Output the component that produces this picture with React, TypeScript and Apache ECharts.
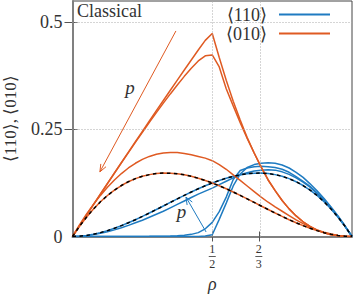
import React, { useEffect, useRef } from "react";
import * as echarts from "echarts";

// density grid
const rho = [0, 0.025, 0.05, 0.075, 0.1, 0.125, 0.15, 0.175, 0.2, 0.225, 0.25, 0.275, 0.3, 0.325, 0.35, 0.375, 0.4, 0.425, 0.45, 0.475, 0.5, 0.525, 0.55, 0.575, 0.6, 0.625, 0.65, 0.675, 0.7, 0.725, 0.75, 0.775, 0.8, 0.825, 0.85, 0.875, 0.9, 0.925, 0.95, 0.975, 1];

// <010> curves (orange)
const o010A = [0, 0.0238, 0.0451, 0.0642, 0.081, 0.0957, 0.1084, 0.1191, 0.128, 0.1351, 0.1406, 0.1445, 0.147, 0.1481, 0.1479, 0.1465, 0.144, 0.1405, 0.1361, 0.1309, 0.125, 0.1185, 0.1114, 0.1039, 0.096, 0.0879, 0.0796, 0.0713, 0.063, 0.0548, 0.0469, 0.0392, 0.032, 0.0253, 0.0191, 0.0137, 0.009, 0.0052, 0.0024, 0.0006, 0];
const o010B = [0, 0.027, 0.052, 0.075, 0.096, 0.115, 0.132, 0.147, 0.16, 0.171, 0.18, 0.187, 0.192, 0.195, 0.196, 0.196, 0.194, 0.191, 0.187, 0.183, 0.177, 0.168, 0.157, 0.144, 0.131, 0.118, 0.105, 0.092, 0.08, 0.069, 0.059, 0.049, 0.039, 0.03, 0.022, 0.0155, 0.0102, 0.0058, 0.0026, 0.0007, 0];
const o010C = [0, 0.025, 0.0498, 0.0744, 0.099, 0.1234, 0.1478, 0.1719, 0.196, 0.2197, 0.2432, 0.2664, 0.2892, 0.3115, 0.333, 0.354, 0.374, 0.393, 0.41, 0.422, 0.424, 0.396, 0.345, 0.305, 0.266, 0.229, 0.195, 0.162, 0.132, 0.107, 0.084, 0.0645, 0.048, 0.0344, 0.0234, 0.0148, 0.0085, 0.0041, 0.0015, 0.0003, 0];
const o010D = [0, 0.025, 0.0498, 0.0745, 0.0992, 0.1238, 0.1484, 0.1728, 0.1972, 0.2215, 0.2457, 0.2698, 0.2938, 0.3177, 0.3415, 0.3652, 0.3888, 0.4122, 0.4355, 0.458, 0.474, 0.418, 0.365, 0.316, 0.272, 0.231, 0.195, 0.162, 0.132, 0.107, 0.084, 0.0645, 0.048, 0.0344, 0.0234, 0.0148, 0.0085, 0.0041, 0.0015, 0.0003, 0];

// <110> curves (blue)
const b110A = [0, 0.0006, 0.0024, 0.0052, 0.009, 0.0137, 0.0191, 0.0253, 0.032, 0.0392, 0.0469, 0.0548, 0.063, 0.0713, 0.0796, 0.0879, 0.096, 0.1039, 0.1114, 0.1185, 0.125, 0.1309, 0.1361, 0.1405, 0.144, 0.1465, 0.1479, 0.1481, 0.147, 0.1445, 0.1406, 0.1351, 0.128, 0.1191, 0.1084, 0.0957, 0.081, 0.0642, 0.0451, 0.0238, 0];
const b110B = [0, 0.0005, 0.002, 0.0045, 0.0075, 0.011, 0.0155, 0.0205, 0.026, 0.032, 0.038, 0.045, 0.052, 0.059, 0.067, 0.075, 0.083, 0.091, 0.099, 0.106, 0.113, 0.121, 0.129, 0.137, 0.144, 0.149, 0.153, 0.155, 0.156, 0.155, 0.151, 0.145, 0.137, 0.127, 0.115, 0.1, 0.084, 0.066, 0.046, 0.024, 0];
const b110C = [0, 0, 0, 0, 0, 0, 0, 0, 0, 0.0001, 0.0002, 0.0003, 0.0005, 0.0008, 0.0012, 0.0018, 0.003, 0.005, 0.009, 0.018, 0.033, 0.058, 0.092, 0.133, 0.154, 0.16, 0.163, 0.164, 0.163, 0.161, 0.157, 0.15, 0.14, 0.129, 0.117, 0.102, 0.086, 0.067, 0.047, 0.024, 0];
const b110D = [0, 0, 0, 0, 0, 0, 0, 0, 0, 0, 0, 0, 0, 0, 0, 0, 0, 0, 0, 0.001, 0.004, 0.04, 0.078, 0.118, 0.146, 0.161, 0.168, 0.171, 0.172, 0.171, 0.167, 0.16, 0.15, 0.138, 0.123, 0.107, 0.089, 0.069, 0.048, 0.025, 0];

// axes
const yTickValues = [0, 0.25, 0.5];
const xTickValues = [0.5, 2 / 3];
const xTickFractions = [["1", "2"], ["2", "3"]];
const xAxisTitle = "\u03C1";
const legendLabels = ["\u27E8110\u27E9", "\u27E8010\u27E9"];

// p arrows (data coordinates): [from, to]
const orangeArrow = [[0.37, 0.48], [0.098, 0.151]];
const blueArrow = [[0.478, 0.0105], [0.406, 0.092]];
const orangeP = [0.2057, 0.347];
const blueP = [0.39, 0.058];

const ORANGE = "#df5a22";
const BLUE = "#1f7bc1";
const TEXT = "#333";
const SERIF = "Liberation Serif";

export default function App() {
  const ref = useRef<HTMLDivElement>(null);
  useEffect(() => {
    document.body.style.margin = "0";
    const chart = echarts.init(ref.current!, null, { renderer: "svg" });
    const pts = (ys: number[]) => rho.map((r, i) => [r, ys[i]]);
    const curve = (ys: number[], color: string, z = 2) => ({
      type: "line",
      data: pts(ys),
      showSymbol: false,
      symbol: "none",
      lineStyle: { color, width: 1.5 },
      z,
      silent: true,
    });
    const dashed = (ys: number[]) => ({
      type: "line",
      data: pts(ys),
      showSymbol: false,
      symbol: "none",
      lineStyle: { color: "#000", width: 1.5, type: [3.5, 3.5] },
      z: 5,
      silent: true,
    });
    chart.setOption({
      animation: false,
      textStyle: { fontFamily: SERIF },
      grid: { left: 72.5, right: 1, top: 1, bottom: 57.5, containLabel: false, outerBoundsMode: "none", show: true, borderColor: "#444", borderWidth: 1, backgroundColor: "transparent" },
      xAxis: [
        {
          type: "value", min: 0, max: 1,
          axisLine: { show: true, lineStyle: { color: "#808080", width: 2 } },
          axisTick: { show: true, inside: true, length: 5, customValues: xTickValues, lineStyle: { color: "#555" } },
          axisLabel: { show: false },
          splitLine: { show: false },
        },
        {
          type: "value", min: 0, max: 1, position: "top",
          axisLine: { show: false },
          axisTick: { show: true, inside: true, length: 5, customValues: xTickValues, lineStyle: { color: "#555" } },
          axisLabel: { show: false },
          splitLine: { show: false },
        },
      ],
      yAxis: [
        {
          type: "value", min: 0, max: 0.55,
          axisLine: { show: true, lineStyle: { color: "#808080", width: 2 } },
          axisTick: { show: true, inside: true, length: 5, customValues: [0.25, 0.5], lineStyle: { color: "#555" } },
          axisLabel: { show: true, customValues: yTickValues, margin: 10, fontFamily: SERIF, fontSize: 18, color: TEXT },
          splitLine: { show: false },
          name: "\u27E8110\u27E9, \u27E8010\u27E9", nameLocation: "middle", nameGap: 54, nameRotate: 90,
          nameTextStyle: { fontFamily: SERIF, fontSize: 17, color: TEXT },
        },
        {
          type: "value", min: 0, max: 0.55, position: "right",
          axisLine: { show: false },
          axisTick: { show: true, inside: true, length: 8, customValues: [0.25, 0.5], lineStyle: { color: "#555" } },
          axisLabel: { show: false },
          splitLine: { show: false },
        },
      ],
      series: [
        {
          type: "line", data: [], silent: true, z: 1,
          markLine: {
            silent: true, symbol: "none", label: { show: false },
            lineStyle: { color: "#aaa", width: 1, type: [1, 2] },
            data: [{ xAxis: xTickValues[0] }, { xAxis: xTickValues[1] }, { yAxis: yTickValues[1] }, { yAxis: yTickValues[2] }],
          },
        },
        curve(b110A, BLUE), curve(b110B, BLUE), curve(b110C, BLUE), curve(b110D, BLUE),
        curve(o010A, ORANGE, 3), curve(o010B, ORANGE, 3), curve(o010C, ORANGE, 3), curve(o010D, ORANGE, 3),
        dashed(o010A), dashed(b110A),
      ],
    });

    const P = (p: number[]) => chart.convertToPixel({ gridIndex: 0 }, p) as number[];
    const arrow = (a: number[][], color: string) => {
      const s = P(a[0]);
      const e = P(a[1]);
      const ang = Math.atan2(e[1] - s[1], e[0] - s[0]);
      const L = 8, w = 0.38;
      const h1 = [e[0] - L * Math.cos(ang - w), e[1] - L * Math.sin(ang - w)];
      const h2 = [e[0] - L * Math.cos(ang + w), e[1] - L * Math.sin(ang + w)];
      return [
        { type: "line", shape: { x1: s[0], y1: s[1], x2: e[0], y2: e[1] }, style: { stroke: color, lineWidth: 1 }, z: 10 },
        { type: "polyline", shape: { points: [h1, e, h2] }, style: { stroke: color, lineWidth: 1, fill: null }, z: 10 },
      ];
    };
    const zero = P([0, 0]);
    const mid = P([0.5, 0]);
    const txt = (x: number, y: number, text: string, size: number, align: string, italic = false) => ({
      type: "text", x, y, z: 10,
      style: { text, fontFamily: SERIF, fontSize: size, fontStyle: italic ? "italic" : "normal", fill: TEXT, align, verticalAlign: "middle" },
    });
    const gfx: any[] = [
      txt(77, 11, "Classical", 18, "left"),
      txt(267, 14.5, legendLabels[0], 18, "right"),
      { type: "line", shape: { x1: 279, y1: 14.5, x2: 330, y2: 14.5 }, style: { stroke: BLUE, lineWidth: 2 }, z: 10 },
      txt(267, 33.5, legendLabels[1], 18, "right"),
      { type: "line", shape: { x1: 279, y1: 33.5, x2: 330, y2: 33.5 }, style: { stroke: ORANGE, lineWidth: 2 }, z: 10 },
      ...arrow(orangeArrow, ORANGE),
      ...arrow(blueArrow, BLUE),
      txt(mid[0], zero[1] + 47, xAxisTitle, 18, "center", true),
    ];
    const op = P(orangeP);
    const bp = P(blueP);
    gfx.push(txt(op[0], op[1], "p", 19, "center", true));
    gfx.push(txt(bp[0], bp[1], "p", 19, "center", true));
    xTickValues.forEach((v, i) => {
      const x = P([v, 0])[0];
      gfx.push(txt(x, zero[1] + 12.5, xTickFractions[i][0], 12, "center"));
      gfx.push({ type: "line", shape: { x1: x - 3.5, y1: zero[1] + 20, x2: x + 3.5, y2: zero[1] + 20 }, style: { stroke: TEXT, lineWidth: 0.8 }, z: 10 });
      gfx.push(txt(x, zero[1] + 27.5, xTickFractions[i][1], 12, "center"));
    });
    chart.setOption({ graphic: gfx });
    return () => chart.dispose();
  }, []);
  return <div ref={ref} style={{ width: 353, height: 294 }} />;
}
